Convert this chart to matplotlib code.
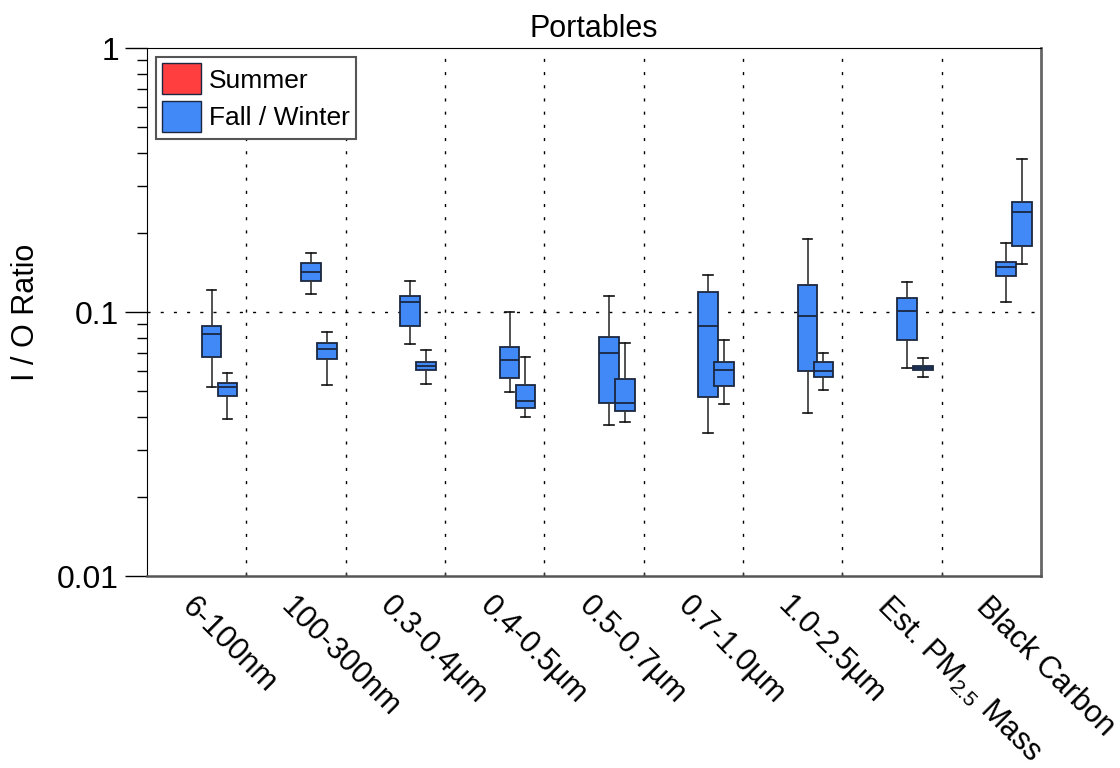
import matplotlib
matplotlib.use('Agg')
import matplotlib.pyplot as plt
from matplotlib.patches import Patch
from matplotlib.ticker import FixedLocator, NullFormatter

plt.rcParams['font.family'] = ['Liberation Sans', 'DejaVu Sans']
plt.rcParams['mathtext.fontset'] = 'custom'
plt.rcParams['mathtext.rm'] = 'Liberation Sans'
plt.rcParams['mathtext.it'] = 'Liberation Sans:italic'

# size bins / measures
categories = ['6-100nm', '100-300nm', '0.3-0.4µm', '0.4-0.5µm', '0.5-0.7µm',
              '0.7-1.0µm', '1.0-2.5µm', 'Est. PM$_{2.5}$ Mass', 'Black Carbon']

# fall / winter, first box in each group
whishi_a = [0.121, 0.168, 0.131, 0.0997, 0.115, 0.138, 0.189, 0.130, 0.183]
q3_a = [0.0887, 0.153, 0.115, 0.0735, 0.0802, 0.119, 0.127, 0.113, 0.155]
med_a = [0.0828, 0.142, 0.109, 0.0658, 0.0701, 0.0885, 0.0966, 0.101, 0.148]
q1_a = [0.0674, 0.131, 0.0885, 0.0564, 0.0453, 0.0475, 0.0596, 0.0783, 0.137]
whislo_a = [0.0521, 0.117, 0.0755, 0.0497, 0.0373, 0.0348, 0.0413, 0.0612, 0.109]

# fall / winter, second box in each group
whishi_b = [0.0589, 0.0838, 0.0716, 0.0677, 0.0765, 0.0781, 0.0701, 0.0668, 0.381]
q3_b = [0.0540, 0.0761, 0.0647, 0.0530, 0.0558, 0.0647, 0.0648, 0.0626, 0.260]
med_b = [0.0518, 0.0724, 0.0626, 0.0459, 0.0453, 0.0602, 0.0600, 0.0615, 0.2385]
q1_b = [0.0481, 0.0664, 0.0602, 0.0434, 0.0422, 0.0524, 0.0567, 0.0603, 0.178]
whislo_b = [0.0394, 0.0529, 0.0534, 0.0401, 0.0384, 0.0449, 0.0506, 0.0567, 0.152]

summer_color = '#ff3f3f'
fall_color = '#4189f7'
edge = '#1b2740'


def make_stats(lo, q1, med, q3, hi):
    return [dict(whislo=a, q1=b, med=c, q3=d, whishi=e)
            for a, b, c, d, e in zip(lo, q1, med, q3, hi)]


fig = plt.figure(figsize=(11.2, 7.68), dpi=100)
ax = fig.add_axes([147 / 1120, 1 - 576 / 768, (1041 - 147) / 1120, (576 - 48) / 768])
ax.set_yscale('log')

n = len(categories)
box_kw = dict(widths=0.197, patch_artist=True, showfliers=False, manage_ticks=False,
              boxprops=dict(facecolor=fall_color, edgecolor=edge, linewidth=1.3),
              medianprops=dict(color=edge, linewidth=1.3),
              whiskerprops=dict(color='#333333', linewidth=1.2),
              capprops=dict(color='#111111', linewidth=1.2))
ax.bxp(make_stats(whislo_a, q1_a, med_a, q3_a, whishi_a),
       positions=[i + 0.15 for i in range(n)], zorder=3, **box_kw)
ax.bxp(make_stats(whislo_b, q1_b, med_b, q3_b, whishi_b),
       positions=[i + 0.31 for i in range(n)], zorder=3, **box_kw)

# separators and reference line
for i in range(n - 1):
    ax.axvline(i + 0.5, color='black', lw=1.0, dashes=(2.2, 7.3), zorder=1)
ax.axhline(0.1, color='black', lw=1.0, dashes=(2.2, 7.3), zorder=1)

ax.set_xlim(-0.5, n - 0.5)
ax.set_ylim(0.01, 1)

ax.set_xticks(range(n))
ax.set_xticklabels(categories, rotation=-45, ha='left', va='top',
                   rotation_mode='anchor', fontsize=22)
ax.tick_params(axis='x', which='major', length=0, pad=11)
ax.xaxis.set_minor_locator(FixedLocator([i + 0.5 for i in range(n - 1)]))
ax.tick_params(axis='x', which='minor', direction='in', length=3, width=1, color='#333333')

ax.set_yticks([0.01, 0.1, 1])
ax.set_yticklabels(['0.01', '0.1', '1'])
ax.yaxis.set_minor_formatter(NullFormatter())
ax.tick_params(axis='y', which='major', direction='out', length=16, width=1, labelsize=23, pad=4)
ax.tick_params(axis='y', which='minor', direction='out', length=7, width=1)

ax.spines['left'].set_color('black')
ax.spines['top'].set_color('black')
ax.spines['right'].set_color('#666666')
ax.spines['right'].set_linewidth(2)
ax.spines['bottom'].set_color('#555555')
ax.spines['bottom'].set_linewidth(1.8)

ax.set_ylabel('I / O Ratio', fontsize=22, labelpad=12)
ax.set_title('Portables', fontsize=22, pad=8)

handles = [Patch(facecolor=summer_color, edgecolor=edge, label='Summer'),
           Patch(facecolor=fall_color, edgecolor=edge, label='Fall / Winter')]
leg = ax.legend(handles=handles, loc='upper left', fontsize=19, fancybox=False,
                framealpha=1, edgecolor='#555555', handlelength=1.48, handleheight=1.44,
                labelspacing=0.25, borderpad=0.25, handletextpad=0.28, borderaxespad=0.33)
leg.get_frame().set_linewidth(1.5)
leg.set_zorder(5)

fig.savefig('out.png', dpi=100)
